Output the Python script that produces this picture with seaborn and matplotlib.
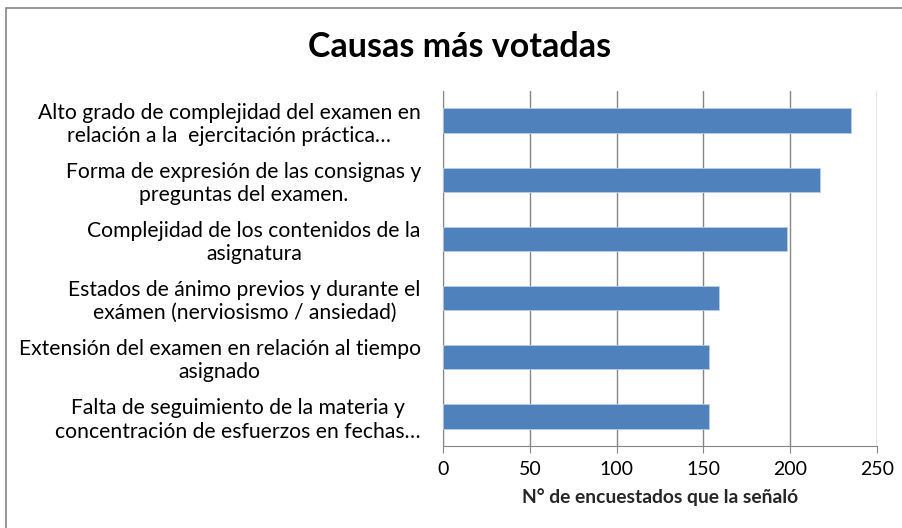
import matplotlib
matplotlib.use("Agg")
import matplotlib.pyplot as plt
import seaborn as sns
import pandas as pd
from matplotlib.patches import Rectangle

# Datos
causas = [
    "Alto grado de complejidad del examen en\nrelación a la  ejercitación práctica…",
    "Forma de expresión de las consignas y\npreguntas del examen.",
    "Complejidad de los contenidos de la\nasignatura",
    "Estados de ánimo previos y durante el\nexámen (nerviosismo / ansiedad)",
    "Extensión del examen en relación al tiempo\nasignado",
    "Falta de seguimiento de la materia y\nconcentración de esfuerzos en fechas…",
]
votos = [235, 217, 198, 159, 153, 153]
ticks_x = [0, 50, 100, 150, 200, 250]

df = pd.DataFrame({"causa": causas, "votos": votos})

sns.set_style("white")
plt.rcParams["font.family"] = ["Lato", "DejaVu Sans"]
plt.rcParams["text.color"] = "black"
plt.rcParams["xtick.color"] = "black"
plt.rcParams["ytick.color"] = "black"

fig = plt.figure(figsize=(9.03, 5.28), dpi=100)
ax = fig.add_axes([443 / 903, 1 - 446 / 528, 434 / 903, 355 / 528])

sns.barplot(data=df, x="votos", y="causa", color="#4F81BD", saturation=1,
            width=0.41, edgecolor="#B9CDE5", linewidth=0.6, ax=ax, zorder=3)

ax.set_xlim(0, 250)
ax.set_xticks(ticks_x)
ax.grid(axis="x", color="#868686", linewidth=1, zorder=0)
ax.set_axisbelow(True)
for s in ["top", "right"]:
    ax.spines[s].set_visible(False)
ax.spines["bottom"].set_color("#868686")
ax.spines["left"].set_color("#868686")
ax.tick_params(axis="x", direction="out", length=5, color="#868686",
               labelsize=14, pad=6, bottom=True)
ax.tick_params(axis="y", length=0, labelsize=15.2, pad=16)
for lbl in ax.get_yticklabels():
    lbl.set_multialignment("center")
    lbl.set_linespacing(1.2)

ax.set_ylabel("")
ax.set_xlabel("N° de encuestados que la señaló", fontsize=13.9, fontweight="bold",
              labelpad=7)

fig.text(460 / 903, 1 - 47 / 528, "Causas más votadas", ha="center", va="center",
         fontsize=24.5, fontweight="bold")

# marco del area del grafico
fig.patches.append(Rectangle((6 / 903, -0.05), 1.1, 1 - 8 / 528 + 0.05,
                             transform=fig.transFigure, fill=False,
                             edgecolor="#868686", linewidth=1.2))

fig.savefig("out.png", dpi=100)
